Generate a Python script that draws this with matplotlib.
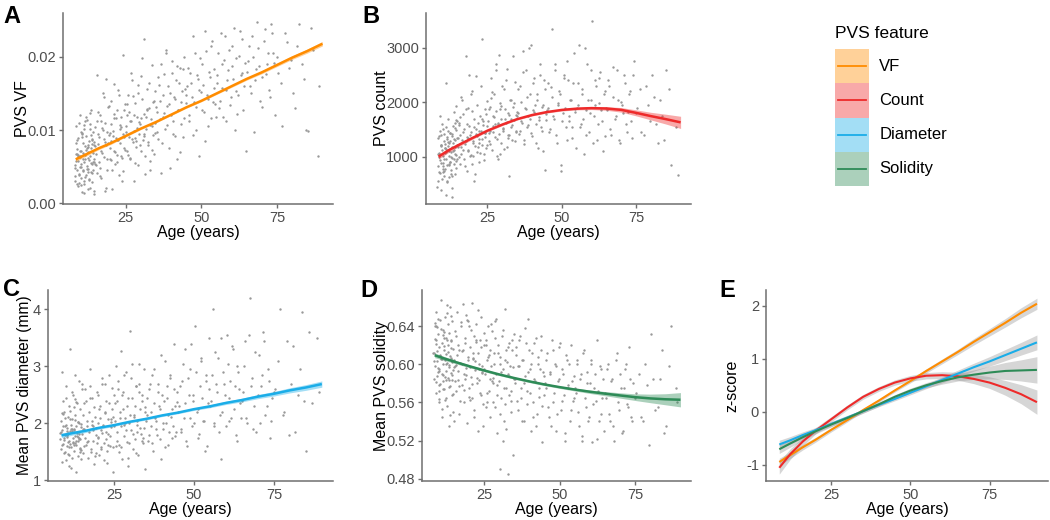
import matplotlib

matplotlib.use("Agg")
import matplotlib.pyplot as plt

plt.rcParams["font.family"] = ["Liberation Sans", "DejaVu Sans"]

# --- participants (age in years), shared by the four scatter panels ---
age = [
    8.2, 8.4, 8.5, 8.7, 8.9, 9.0, 9.1, 9.3, 9.4, 9.6,
    9.8, 10.0, 10.1, 10.2, 10.3, 10.5, 10.6, 10.8, 10.9, 11.0,
    11.1, 11.3, 11.4, 11.5, 11.6, 11.8, 12.0, 12.1, 12.2, 12.3,
    12.4, 12.6, 12.8, 12.9, 13.0, 13.1, 13.2, 13.4, 13.5, 13.6,
    13.7, 13.8, 14.0, 14.1, 14.2, 14.3, 14.4, 14.6, 14.7, 14.9,
    15.1, 15.4, 15.6, 15.9, 16.0, 16.2, 16.4, 16.7, 17.0, 17.2,
    17.5, 17.8, 18.0, 18.1, 18.3, 18.6, 18.9, 19.2, 19.5, 19.7,
    20.0, 20.3, 20.6, 20.9, 21.0, 21.2, 21.4, 21.7, 22.0, 22.3,
    22.6, 22.9, 23.0, 23.2, 23.4, 23.7, 24.0, 24.3, 24.6, 24.9,
    25.2, 25.5, 25.8, 26.0, 26.1, 26.4, 26.7, 27.0, 27.3, 27.6,
    27.9, 28.2, 28.5, 28.8, 29.0, 29.1, 29.4, 29.7, 30.0, 30.3,
    30.6, 30.9, 31.2, 31.5, 31.8, 32.1, 32.4, 32.7, 33.0, 33.3,
    33.6, 33.9, 34.2, 34.5, 34.8,
    35.2, 35.6, 36.0, 36.4, 36.8, 37.2, 37.6, 38.0, 38.4, 38.8,
    39.2, 39.6, 40.0, 40.4, 40.8, 41.2, 41.6, 42.0, 42.4, 42.8,
    43.2, 43.6, 44.0, 44.4, 44.8,
    45.3, 45.8, 46.3, 46.8, 47.3, 47.8, 48.3, 48.8, 49.3, 49.8,
    50.3, 50.8, 51.3, 51.8, 52.3, 52.8, 53.3, 53.8, 54.3, 54.8,
    55.3, 55.8, 56.4, 56.9, 57.5, 58.0, 58.6, 59.1, 59.7,
    60.2, 60.8, 61.3, 61.9, 62.4, 63.0, 63.5, 64.1, 64.6,
    65.3, 66.0, 66.7, 67.4, 68.1, 68.8, 69.5,
    70.2, 70.9, 71.6, 72.3, 73.0, 73.7, 74.4,
    75.4, 76.8, 78.2, 79.6, 81.0, 82.4, 83.8, 85.2, 86.8, 88.4,
    # second batch
    8.3, 8.6, 8.8, 9.2, 9.5, 9.7, 9.9, 10.4, 10.7, 11.2,
    11.7, 11.9, 12.5, 12.7, 13.3, 13.9, 14.5, 14.8, 8.1, 9.2,
    10.0, 10.6, 11.2, 11.9, 12.5, 13.2, 13.9, 14.5, 8.6, 9.5,
    10.3, 11.0, 11.7, 12.4, 13.1, 13.8, 14.4, 9.0, 9.9, 10.8,
    11.5, 12.2, 12.9, 13.6, 14.3, 8.8, 10.1, 11.3, 12.6, 13.9,
    15.0, 15.3, 15.7, 16.1, 16.5, 16.9, 17.3, 17.7, 18.2, 18.5,
    18.8, 19.0, 19.4, 19.8, 20.1, 20.5, 20.8, 21.3, 21.6, 21.9,
    22.2, 22.5, 22.8, 23.3, 23.6, 23.9, 24.2, 24.5, 24.8, 15.5,
    16.6, 17.6, 18.4, 19.3, 20.2, 21.1, 22.1, 23.1, 24.1, 19.9,
    25.0, 25.4, 25.9, 26.3, 26.8, 27.2, 27.7, 28.1, 28.6, 29.2,
    29.6, 30.1, 30.5, 31.0, 31.4, 31.9, 32.3, 32.8, 33.2, 33.7,
    34.1, 34.6, 25.6, 26.5, 27.5, 28.4, 29.3, 30.2, 31.1, 32.0,
    32.9, 33.8, 34.7, 28.0, 31.7,
    35.0, 35.4, 35.8, 36.2, 36.6, 37.0, 37.4, 37.8, 38.2, 38.6,
    39.0, 39.4, 39.8, 40.2, 40.6, 41.0, 41.4, 41.8, 42.2, 42.6,
    43.0, 43.4, 43.8, 44.2, 44.6,
    45.0, 45.5, 46.0, 46.6, 47.1, 47.6, 48.1, 48.6, 49.1, 49.6,
    50.1, 50.6, 51.1, 51.6, 52.1, 52.6, 53.1, 53.6, 54.1, 54.6,
    55.1, 55.6, 56.1, 56.7, 57.2, 57.8, 58.3, 58.9, 59.4,
    60.0, 60.5, 61.1, 61.6, 62.2, 62.7, 63.3, 63.8, 64.4,
    65.0, 65.7, 66.4, 67.1, 67.8, 68.5, 69.2,
    69.9, 70.6, 71.3, 72.0, 72.7, 73.4, 74.1,
    75.0, 76.3, 77.7, 79.0, 80.3, 81.7, 83.1, 84.5, 86.1, 89.0,
]

vf = [
    0.0052, 0.0031, 0.0068, 0.0105, 0.0045, 0.0074, 0.0023, 0.0058, 0.0089, 0.0040,
    0.0063, 0.0121, 0.0035, 0.0071, 0.0049, 0.0095, 0.0015, 0.0061, 0.0082, 0.0044,
    0.0107, 0.0056, 0.0027, 0.0078, 0.0066, 0.0038, 0.0092, 0.0051, 0.0114, 0.0047,
    0.0070, 0.0019, 0.0085, 0.0059, 0.0033, 0.0101, 0.0064, 0.0043, 0.0076, 0.0127,
    0.0055, 0.0088, 0.0029, 0.0069, 0.0097, 0.0046, 0.0061, 0.0012, 0.0080, 0.0053,
    0.0068, 0.0175, 0.0042, 0.0095, 0.0081, 0.0057, 0.0120, 0.0034, 0.0072, 0.0103,
    0.0150, 0.0063, 0.0088, 0.0017, 0.0110, 0.0079, 0.0046, 0.0131, 0.0093, 0.0060,
    0.0085, 0.0140, 0.0020, 0.0099, 0.0071, 0.0116, 0.0053, 0.0089, 0.0128, 0.0066,
    0.0155, 0.0039, 0.0101, 0.0083, 0.0118, 0.0062, 0.0202, 0.0091, 0.0075, 0.0136,
    0.0105, 0.0072, 0.0148, 0.0091, 0.0125, 0.0060, 0.0113, 0.0169, 0.0084, 0.0030,
    0.0099, 0.0137, 0.0077, 0.0118, 0.0052, 0.0161, 0.0095, 0.0108, 0.0071, 0.0143,
    0.0087, 0.0224, 0.0122, 0.0064, 0.0101, 0.0156, 0.0080, 0.0130, 0.0045, 0.0115,
    0.0189, 0.0093, 0.0140, 0.0068, 0.0110,
    0.0125, 0.0088, 0.0162, 0.0140, 0.0042, 0.0118, 0.0177, 0.0101, 0.0209, 0.0133,
    0.0075, 0.0150, 0.0120, 0.0195, 0.0095, 0.0142, 0.0168, 0.0060, 0.0127, 0.0185,
    0.0108, 0.0154, 0.0090, 0.0200, 0.0137,
    0.0160, 0.0112, 0.0178, 0.0145, 0.0093, 0.0205, 0.0132, 0.0170, 0.0064, 0.0152,
    0.0190, 0.0125, 0.0236, 0.0148, 0.0105, 0.0172, 0.0215, 0.0138, 0.0183, 0.0118,
    0.0175, 0.0130, 0.0232, 0.0158, 0.0196, 0.0112, 0.0168, 0.0210, 0.0145,
    0.0187, 0.0240, 0.0153, 0.0122, 0.0201, 0.0175, 0.0225, 0.0160, 0.0072,
    0.0195, 0.0160, 0.0228, 0.0098, 0.0183, 0.0212, 0.0140,
    0.0172, 0.0238, 0.0190, 0.0155, 0.0245, 0.0205, 0.0120,
    0.0178, 0.0106, 0.0220, 0.0196, 0.0130, 0.0245, 0.0170, 0.0099, 0.0210, 0.0065,
    # second batch
    0.0048, 0.0083, 0.0026, 0.0065, 0.0110, 0.0039, 0.0072, 0.0054, 0.0096, 0.0031,
    0.0060, 0.0118, 0.0043, 0.0077, 0.0021, 0.0087, 0.0057, 0.0104, 0.0037, 0.0066,
    0.0050, 0.0091, 0.0014, 0.0073, 0.0062, 0.0123, 0.0041, 0.0084, 0.0058, 0.0028,
    0.0098, 0.0069, 0.0036, 0.0079, 0.0108, 0.0053, 0.0017, 0.0086, 0.0064, 0.0045,
    0.0112, 0.0075, 0.0032, 0.0093, 0.0056, 0.0067, 0.0025, 0.0101, 0.0047, 0.0081,
    0.0078, 0.0052, 0.0125, 0.0090, 0.0037, 0.0112, 0.0069, 0.0145, 0.0084, 0.0021,
    0.0098, 0.0061, 0.0133, 0.0076, 0.0108, 0.0045, 0.0092, 0.0163, 0.0070, 0.0117,
    0.0056, 0.0087, 0.0148, 0.0065, 0.0104, 0.0030, 0.0095, 0.0128, 0.0073, 0.0113,
    0.0048, 0.0100, 0.0170, 0.0082, 0.0059, 0.0122, 0.0086, 0.0107, 0.0044, 0.0096,
    0.0098, 0.0135, 0.0066, 0.0112, 0.0178, 0.0088, 0.0121, 0.0055, 0.0103, 0.0150,
    0.0079, 0.0116, 0.0198, 0.0092, 0.0040, 0.0129, 0.0084, 0.0165, 0.0107, 0.0073,
    0.0138, 0.0096, 0.0120, 0.0062, 0.0146, 0.0085, 0.0111, 0.0174, 0.0094, 0.0128,
    0.0058, 0.0106, 0.0153, 0.0089, 0.0118,
    0.0131, 0.0098, 0.0172, 0.0115, 0.0190, 0.0083, 0.0148, 0.0124, 0.0205, 0.0107,
    0.0160, 0.0136, 0.0048, 0.0178, 0.0112, 0.0145, 0.0092, 0.0188, 0.0128, 0.0165,
    0.0070, 0.0139, 0.0183, 0.0117, 0.0156,
    0.0148, 0.0185, 0.0120, 0.0165, 0.0228, 0.0138, 0.0100, 0.0175, 0.0155, 0.0198,
    0.0128, 0.0162, 0.0085, 0.0208, 0.0142, 0.0180, 0.0116, 0.0222, 0.0158, 0.0135,
    0.0165, 0.0205, 0.0140, 0.0190, 0.0118, 0.0228, 0.0155, 0.0182, 0.0134,
    0.0215, 0.0170, 0.0100, 0.0198, 0.0148, 0.0236, 0.0178, 0.0128, 0.0192,
    0.0180, 0.0215, 0.0150, 0.0200, 0.0168, 0.0248, 0.0188,
    0.0132, 0.0222, 0.0176, 0.0205, 0.0145, 0.0232, 0.0192,
    0.0200, 0.0165, 0.0232, 0.0185, 0.0150, 0.0215, 0.0190, 0.0100, 0.0240, 0.0160,
]

count = [
    820, 1350, 560, 1050, 1480, 700, 930, 1210, 380, 1120,
    1600, 890, 1020, 650, 1290, 1410, 770, 1150, 2350, 960,
    1080, 530, 1330, 850, 1190, 1700, 1010, 620, 1250, 910,
    1440, 1090, 760, 1380, 1170, 420, 980, 1560, 1260, 870,
    1130, 1820, 690, 1300, 1040, 1490, 800, 1220, 1650, 950,
    1180, 1620, 860, 1400, 2100, 1050, 1310, 1780, 960, 1500,
    1240, 2850, 730, 1370, 1900, 1120, 1560, 1010, 1450, 2200,
    1280, 550, 1690, 1190, 1420, 2480, 1080, 1610, 1330, 900,
    1750, 1470, 3170, 1220, 1580, 1040, 1880, 1360, 1150, 2020,
    1650, 1280, 1920, 1470, 2450, 1130, 1740, 1560, 2150, 1360,
    1830, 1010, 1600, 2860, 1420, 1980, 1250, 1700, 2300, 1510,
    1140, 1880, 1620, 2620, 1390, 1760, 650, 2050, 1540, 1300,
    1910, 1680, 2380, 1450, 1820,
    1800, 1420, 2300, 1650, 2950, 1230, 1900, 2600, 1540, 1750,
    2150, 3050, 1380, 1850, 2450, 1600, 2050, 1150, 1720, 2700,
    1480, 1950, 2400, 760, 1680,
    1900, 1450, 2280, 3350, 1700, 2600, 1250, 1980, 2150, 850,
    1800, 2450, 1550, 2750, 1650, 2050, 1350, 2350, 1880, 1150,
    1950, 3050, 1600, 2250, 1050, 1850, 2700, 1450, 2050,
    3500, 1750, 2400, 1300, 1980, 2550, 1650, 2150, 1380,
    1850, 2300, 1400, 2650, 1750, 2050, 1250,
    1950, 2500, 1600, 1820, 2200, 1350, 2750,
    1900, 1450, 2300, 1650, 2100, 1250, 1750, 2600, 850, 1550,
    # second batch
    1050, 720, 1380, 880, 1220, 590, 1510, 960, 1160, 300,
    1270, 840, 1430, 680, 1100, 1620, 920, 1340, 450, 1200,
    780, 1060, 1550, 870, 1280, 640, 1180, 1930, 990, 1390,
    740, 1140, 1480, 910, 250, 1320, 1030, 1750, 830, 1240,
    560, 1110, 1420, 950, 1670, 1070, 710, 1360, 1000, 1520,
    1350, 990, 1720, 1180, 2050, 1460, 820, 1290, 1600, 1110,
    2500, 1400, 1030, 1830, 1250, 1540, 680, 1380, 1950, 1170,
    1480, 1070, 2300, 1320, 1660, 940, 1430, 1790, 1210, 1590,
    1120, 1870, 1340, 2150, 1010, 1500, 1260, 1700, 1440, 860,
    1560, 1880, 1230, 2080, 1450, 1720, 2600, 1330, 1610, 1050,
    1940, 1480, 2250, 1690, 1180, 1810, 1390, 2050, 1580, 2850,
    1280, 1760, 1430, 2180, 1600, 960, 1870, 1520, 2400, 1350,
    1700, 1990, 1470, 2700, 1640,
    1750, 2250, 1480, 2000, 1620, 2550, 1300, 1880, 2100, 1580,
    3000, 1700, 1430, 2350, 1820, 1950, 1250, 2150, 1680, 2500,
    1550, 1920, 1100, 2250, 1780,
    1850, 2350, 1500, 2100, 1750, 2700, 1400, 1950, 2200, 730,
    1650, 2500, 1900, 1300, 2400, 1750, 2050, 1550, 2900, 1820,
    1900, 2350, 1550, 2150, 1700, 3000, 1400, 2050, 1800,
    2600, 1250, 1950, 2300, 1600, 2450, 1850, 1100, 2200,
    1900, 2400, 1500, 2100, 1700, 2600, 1300,
    2000, 1800, 2350, 1450, 2150, 1650, 2500,
    1800, 2250, 1400, 1950, 2500, 1600, 2050, 1300, 2250, 660,
]

diameter = [
    1.72, 2.05, 1.55, 1.88, 2.40, 1.64, 1.95, 1.48, 2.20, 1.80,
    1.35, 2.65, 1.76, 1.92, 1.60, 2.12, 1.83, 1.45, 2.30, 1.70,
    3.30, 1.86, 1.58, 1.98, 1.22, 2.08, 1.74, 2.50, 1.66, 1.90,
    1.52, 2.85, 1.78, 2.15, 1.62, 1.15, 1.96, 1.84, 2.35, 1.69,
    2.02, 1.42, 2.75, 1.81, 1.57, 2.25, 1.73, 1.99, 1.38, 2.60,
    1.90, 1.48, 2.35, 1.75, 2.60, 1.62, 2.05, 1.40, 2.20, 1.85,
    2.95, 1.55, 1.98, 2.45, 1.70, 1.28, 2.12, 1.80, 2.55, 1.65,
    2.00, 1.45, 2.30, 1.88, 1.58, 2.70, 1.95, 1.35, 2.18, 1.72,
    2.40, 1.52, 2.08, 1.82, 2.85, 1.60, 1.93, 2.25, 1.15, 2.50,
    2.05, 1.60, 2.40, 1.85, 2.75, 1.50, 2.20, 3.27, 1.95, 1.38,
    2.55, 1.78, 2.10, 2.90, 1.68, 2.30, 1.25, 2.00, 3.62, 1.88,
    2.45, 1.55, 2.15, 1.72, 2.65, 1.98, 1.45, 3.05, 2.25, 1.82,
    2.50, 1.65, 2.95, 1.92, 1.20,
    2.15, 1.70, 2.60, 1.95, 2.85, 1.52, 2.35, 2.05, 1.80, 2.70,
    2.25, 1.38, 2.50, 1.90, 3.10, 2.00, 2.45, 1.62, 2.80, 2.12,
    1.75, 3.40, 2.30, 1.85, 2.55,
    2.30, 1.85, 2.75, 2.10, 3.30, 1.60, 2.50, 2.95, 1.95, 2.40,
    3.70, 2.20, 1.75, 2.65, 3.10, 2.05, 1.52, 2.85, 2.35, 3.50,
    2.40, 4.00, 1.95, 2.70, 3.15, 2.15, 1.38, 2.90, 2.50,
    3.55, 2.05, 2.75, 3.35, 2.25, 1.80, 3.00, 2.60, 2.10,
    2.55, 3.45, 2.00, 4.20, 2.80, 2.30, 1.85,
    3.20, 2.65, 3.60, 2.15, 2.95, 1.75, 2.45,
    2.60, 4.00, 2.20, 1.80, 3.35, 2.50, 3.95, 1.52, 2.35, 3.50,
    # second batch
    1.85, 1.62, 2.18, 1.74, 1.95, 1.50, 2.45, 1.80, 1.68, 2.08,
    1.40, 1.90, 2.28, 1.66, 1.78, 2.00, 1.54, 2.70, 1.84, 1.71,
    1.97, 1.46, 2.22, 1.87, 1.63, 2.38, 1.75, 1.93, 1.32, 2.10,
    1.79, 1.59, 2.55, 1.88, 1.70, 2.03, 1.49, 2.16, 1.82, 1.25,
    1.91, 1.67, 2.42, 1.77, 1.56, 2.90, 1.86, 1.64, 2.06, 1.72,
    1.82, 2.15, 1.60, 2.40, 1.95, 1.70, 2.65, 1.50, 2.05, 1.88,
    2.28, 1.42, 1.92, 2.50, 1.76, 2.10, 1.55, 2.80, 1.98, 1.66,
    2.20, 1.85, 1.30, 2.35, 1.78, 2.02, 2.62, 1.58, 2.12, 1.90,
    1.68, 2.45, 1.95, 1.48, 2.25, 1.84, 2.70, 1.62, 2.08, 1.74,
    1.95, 2.35, 1.70, 2.60, 2.10, 1.58, 2.25, 2.85, 1.88, 2.45,
    1.65, 2.15, 3.05, 1.82, 2.30, 1.48, 2.05, 2.70, 1.92, 2.40,
    1.75, 2.20, 3.00, 1.62, 2.50, 2.00, 1.40, 2.80, 2.12, 1.85,
    2.55, 1.70, 2.28, 1.98, 2.65,
    2.05, 2.45, 1.80, 2.70, 2.20, 1.65, 2.95, 2.10, 1.90, 2.55,
    2.30, 1.72, 3.20, 2.00, 2.40, 1.58, 2.65, 2.15, 1.85, 2.85,
    2.25, 1.95, 2.60, 1.78, 2.38,
    2.20, 2.65, 1.90, 3.05, 2.35, 1.70, 2.80, 2.10, 3.40, 2.50,
    2.00, 2.90, 2.25, 1.82, 3.15, 2.45, 2.05, 2.75, 1.60, 2.60,
    2.30, 2.85, 2.00, 3.25, 2.55, 1.85, 3.50, 2.20, 2.70,
    1.95, 3.05, 2.45, 2.10, 3.30, 2.65, 1.70, 2.90, 2.35,
    2.40, 3.00, 2.10, 3.55, 2.65, 1.90, 3.25,
    2.50, 2.00, 2.85, 3.45, 2.30, 2.75, 2.05,
    2.55, 3.10, 2.15, 3.45, 2.70, 1.85, 2.95, 2.40, 3.60, 2.55,
]

solidity = [
    0.612, 0.585, 0.640, 0.598, 0.625, 0.570, 0.655, 0.603, 0.588, 0.632,
    0.560, 0.618, 0.595, 0.647, 0.579, 0.608, 0.668, 0.590, 0.622, 0.545,
    0.600, 0.636, 0.582, 0.615, 0.574, 0.650, 0.605, 0.565, 0.628, 0.593,
    0.611, 0.556, 0.642, 0.586, 0.620, 0.599, 0.535, 0.633, 0.577, 0.609,
    0.660, 0.591, 0.624, 0.568, 0.604, 0.645, 0.583, 0.616, 0.550, 0.597,
    0.598, 0.635, 0.572, 0.610, 0.655, 0.584, 0.620, 0.548, 0.601, 0.640,
    0.578, 0.615, 0.663, 0.590, 0.560, 0.628, 0.596, 0.538, 0.645, 0.605,
    0.575, 0.618, 0.587, 0.664, 0.565, 0.607, 0.630, 0.552, 0.594, 0.642,
    0.580, 0.612, 0.530, 0.600, 0.625, 0.568, 0.650, 0.592, 0.558, 0.620,
    0.590, 0.625, 0.560, 0.605, 0.640, 0.572, 0.615, 0.545, 0.598, 0.635,
    0.580, 0.612, 0.555, 0.648, 0.590, 0.528, 0.620, 0.582, 0.490, 0.608,
    0.565, 0.630, 0.595, 0.540, 0.658, 0.575, 0.602, 0.485, 0.622, 0.568,
    0.598, 0.550, 0.615, 0.505, 0.585,
    0.580, 0.618, 0.552, 0.598, 0.630, 0.565, 0.605, 0.540, 0.588, 0.622,
    0.572, 0.648, 0.595, 0.530, 0.612, 0.560, 0.585, 0.628, 0.548, 0.600,
    0.575, 0.615, 0.518, 0.592, 0.568,
    0.575, 0.612, 0.545, 0.590, 0.625, 0.560, 0.600, 0.530, 0.582, 0.618,
    0.552, 0.595, 0.568, 0.520, 0.605, 0.578, 0.540, 0.620, 0.562, 0.588,
    0.570, 0.605, 0.535, 0.590, 0.520, 0.615, 0.555, 0.580, 0.545,
    0.600, 0.518, 0.575, 0.562, 0.625, 0.540, 0.595, 0.565, 0.530,
    0.565, 0.600, 0.540, 0.585, 0.520, 0.612, 0.552,
    0.575, 0.530, 0.595, 0.558, 0.618, 0.545, 0.580,
    0.570, 0.545, 0.600, 0.515, 0.585, 0.555, 0.615, 0.535, 0.640, 0.575,
    # second batch
    0.603, 0.627, 0.581, 0.614, 0.596, 0.648, 0.572, 0.609, 0.637, 0.589,
    0.619, 0.563, 0.601, 0.654, 0.583, 0.626, 0.594, 0.541, 0.612, 0.639,
    0.578, 0.606, 0.631, 0.587, 0.662, 0.597, 0.617, 0.569, 0.643, 0.592,
    0.610, 0.553, 0.628, 0.600, 0.576, 0.651, 0.589, 0.621, 0.564, 0.606,
    0.634, 0.584, 0.613, 0.547, 0.602, 0.640, 0.593, 0.574, 0.625, 0.607,
    0.605, 0.582, 0.630, 0.593, 0.615, 0.561, 0.644, 0.600, 0.573, 0.622,
    0.589, 0.652, 0.608, 0.566, 0.597, 0.636, 0.579, 0.612, 0.545, 0.603,
    0.626, 0.586, 0.657, 0.595, 0.570, 0.618, 0.591, 0.535, 0.633, 0.599,
    0.577, 0.614, 0.585, 0.647, 0.563, 0.606, 0.623, 0.583, 0.598, 0.640,
    0.595, 0.620, 0.570, 0.608, 0.585, 0.642, 0.560, 0.600, 0.628, 0.578,
    0.612, 0.548, 0.592, 0.636, 0.575, 0.604, 0.532, 0.618, 0.588, 0.562,
    0.625, 0.597, 0.555, 0.610, 0.582, 0.645, 0.568, 0.600, 0.520, 0.615,
    0.590, 0.572, 0.632, 0.586, 0.558,
    0.585, 0.610, 0.562, 0.598, 0.625, 0.575, 0.540, 0.605, 0.580, 0.638,
    0.558, 0.592, 0.615, 0.570, 0.600, 0.545, 0.622, 0.582, 0.535, 0.608,
    0.566, 0.595, 0.630, 0.556, 0.588,
    0.580, 0.605, 0.555, 0.592, 0.535, 0.615, 0.570, 0.598, 0.548, 0.585,
    0.622, 0.562, 0.590, 0.528, 0.610, 0.575, 0.600, 0.552, 0.582, 0.565,
    0.575, 0.600, 0.550, 0.585, 0.525, 0.612, 0.565, 0.592, 0.540,
    0.580, 0.605, 0.558, 0.590, 0.522, 0.572, 0.598, 0.548, 0.585,
    0.570, 0.595, 0.548, 0.582, 0.535, 0.605, 0.560,
    0.590, 0.528, 0.575, 0.600, 0.555, 0.585, 0.540,
    0.565, 0.590, 0.540, 0.578, 0.632, 0.552, 0.585, 0.528, 0.598, 0.560,
]

# --- fitted trends and half-width of the 95% band ---
fit_age = [8.5, 12, 16, 20, 25, 30, 35, 40, 45, 50, 55, 60, 65, 70, 75, 80, 85, 90]

vf_fit = [0.0060, 0.0067, 0.0075, 0.0082, 0.0092, 0.0102, 0.0111, 0.0121, 0.0131,
          0.0140, 0.0150, 0.0160, 0.0170, 0.0179, 0.0189, 0.0199, 0.0208, 0.0218]
vf_ci = [0.0003, 0.00025, 0.0002, 0.00018, 0.00015, 0.00013, 0.00012, 0.00012, 0.00012,
         0.00013, 0.00014, 0.00016, 0.00018, 0.0002, 0.00022, 0.00025, 0.00028, 0.0003]

count_fit = [1000, 1120, 1235, 1345, 1478, 1590, 1690, 1765, 1820,
             1859, 1882, 1892, 1885, 1860, 1805, 1745, 1690, 1630]
count_ci = [45, 38, 30, 25, 20, 18, 17, 17, 18, 20, 23, 27, 33, 42, 55, 70, 90, 112]

diam_fit = [1.79, 1.83, 1.87, 1.92, 1.97, 2.03, 2.08, 2.14, 2.19,
            2.25, 2.30, 2.36, 2.41, 2.47, 2.52, 2.58, 2.63, 2.69]
diam_ci = [0.04, 0.035, 0.03, 0.025, 0.022, 0.02, 0.02, 0.02, 0.02,
           0.022, 0.025, 0.028, 0.032, 0.036, 0.04, 0.045, 0.05, 0.055]

sol_fit = [0.6095, 0.6058, 0.6018, 0.5980, 0.5935, 0.5893, 0.5855, 0.5820, 0.5788,
           0.5760, 0.5735, 0.5712, 0.5692, 0.5673, 0.5655, 0.5642, 0.5633, 0.5628]
sol_ci = [0.0025, 0.002, 0.0017, 0.0015, 0.0013, 0.0012, 0.0012, 0.0012, 0.0012,
          0.0013, 0.0015, 0.0018, 0.0022, 0.0028, 0.0035, 0.0045, 0.0058, 0.0075]

# panel E: z-scored trends
z_vf = [-0.95, -0.82, -0.67, -0.53, -0.34, -0.16, 0.03, 0.21, 0.40,
        0.58, 0.77, 0.95, 1.13, 1.32, 1.50, 1.68, 1.87, 2.04]
z_vf_ci = [0.07, 0.06, 0.05, 0.045, 0.04, 0.035, 0.03, 0.03, 0.03,
           0.035, 0.04, 0.045, 0.05, 0.06, 0.07, 0.08, 0.095, 0.105]
z_count = [-1.06, -0.80, -0.56, -0.36, -0.14, 0.08, 0.28, 0.43, 0.55,
           0.63, 0.68, 0.69, 0.67, 0.62, 0.55, 0.45, 0.33, 0.18]
z_count_ci = [0.12, 0.1, 0.08, 0.06, 0.05, 0.045, 0.045, 0.045, 0.05,
              0.055, 0.06, 0.065, 0.075, 0.09, 0.11, 0.14, 0.18, 0.23]
z_diam = [-0.62, -0.54, -0.44, -0.35, -0.23, -0.11, 0.01, 0.13, 0.24,
          0.36, 0.48, 0.60, 0.72, 0.84, 0.95, 1.07, 1.19, 1.31]
z_diam_ci = [0.08, 0.07, 0.06, 0.05, 0.045, 0.04, 0.035, 0.035, 0.035,
             0.04, 0.045, 0.055, 0.065, 0.075, 0.09, 0.105, 0.12, 0.14]
z_sol = [-0.71, -0.60, -0.48, -0.37, -0.24, -0.12, 0.01, 0.14, 0.28,
         0.40, 0.50, 0.58, 0.65, 0.70, 0.74, 0.77, 0.78, 0.79]
z_sol_ci = [0.08, 0.07, 0.06, 0.05, 0.045, 0.04, 0.04, 0.04, 0.04,
            0.045, 0.05, 0.06, 0.07, 0.09, 0.12, 0.16, 0.2, 0.25]

features = ["VF", "Count", "Diameter", "Solidity"]
colors = ["#FF8C00", "#EE2A2A", "#1AADE8", "#2E8B57"]

AGE_LIM = (4.3, 93.5)
W, H = 1050, 520


def px_axes(fig, left, top, right, bottom):
    return fig.add_axes([left / W, 1 - bottom / H, (right - left) / W, (bottom - top) / H])


def style(ax, ylabel, yticks, yticklabels, ylim, ypad=-2, ysize=11.5):
    for side in ("top", "right"):
        ax.spines[side].set_visible(False)
    for side in ("left", "bottom"):
        ax.spines[side].set_color("#6f6f6f")
        ax.spines[side].set_linewidth(1.1)
    ax.set_xlim(*AGE_LIM)
    ax.set_ylim(*ylim)
    ax.set_xticks([25, 50, 75])
    ax.set_yticks(yticks)
    ax.set_yticklabels(yticklabels)
    ax.tick_params(colors="#6f6f6f", labelcolor="#4d4d4d", labelsize=10.5,
                   length=3, width=1, pad=2)
    ax.set_xlabel("Age (years)", fontsize=11.5, labelpad=0)
    ax.set_ylabel(ylabel, fontsize=ysize, labelpad=ypad)


def trend(ax, fit, ci, color, band_color=None, band_alpha=0.4, lw=1.8):
    lo = [f - c for f, c in zip(fit, ci)]
    hi = [f + c for f, c in zip(fit, ci)]
    ax.fill_between(fit_age, lo, hi, color=band_color or color, alpha=band_alpha,
                    linewidth=0, zorder=2)
    ax.plot(fit_age, fit, color=color, lw=lw, zorder=3, solid_capstyle="butt")


def points(ax, values):
    ax.scatter(age, values, s=3, c="#999999", linewidths=0, zorder=1)


fig = plt.figure(figsize=(10.5, 5.2), dpi=100)

# A
ax = px_axes(fig, 63, 13, 333, 204)
points(ax, vf)
trend(ax, vf_fit, vf_ci, colors[0])
style(ax, "PVS VF", [0, 0.01, 0.02], ["0.00", "0.01", "0.02"], (-0.0001, 0.026))

# B
ax = px_axes(fig, 426, 13, 691, 204)
points(ax, count)
trend(ax, count_fit, count_ci, colors[1])
style(ax, "PVS count", [1000, 2000, 3000], ["1000", "2000", "3000"], (130, 3640))

# C
ax = px_axes(fig, 48, 290, 333, 481)
points(ax, diameter)
trend(ax, diam_fit, diam_ci, colors[2])
style(ax, "Mean PVS diameter (mm)", [1, 2, 3, 4], ["1", "2", "3", "4"], (0.99, 4.34),
      ypad=1, ysize=11.2)

# D
ax = px_axes(fig, 422, 290, 691, 481)
points(ax, solidity)
trend(ax, sol_fit, sol_ci, colors[3])
style(ax, "Mean PVS solidity", [0.48, 0.52, 0.56, 0.60, 0.64],
      ["0.48", "0.52", "0.56", "0.60", "0.64"], (0.4775, 0.678))

# E
ax = px_axes(fig, 766, 290, 1048, 481)
for fit, ci, col in [(z_vf, z_vf_ci, colors[0]), (z_count, z_count_ci, colors[1]),
                     (z_diam, z_diam_ci, colors[2]), (z_sol, z_sol_ci, colors[3])]:
    trend(ax, fit, ci, col, band_color="#999999", band_alpha=0.4, lw=1.5)
style(ax, "z-score", [-1, 0, 1, 2], ["-1", "0", "1", "2"], (-1.31, 2.30), ypad=4.5)

# panel letters
for letter, x, y in [("A", 3, 23), ("B", 362, 23), ("C", 3, 296), ("D", 360, 297), ("E", 719, 297)]:
    fig.text(x / W, 1 - y / H, letter, fontsize=17, fontweight="bold", va="baseline")

# legend: ggplot-style stacked keys (filled band + line) drawn in its own axes
lax = px_axes(fig, 835, 49, 869, 186)
lax.set_xlim(0, 1)
lax.set_ylim(len(features), 0)
lax.axis("off")
for i, (name, col) in enumerate(zip(features, colors)):
    lax.bar(0.5, 1, width=1, bottom=i, color=col, alpha=0.4, linewidth=0)
    lax.plot([0.1, 0.9], [i + 0.5, i + 0.5], color=col, lw=1.3)
    lax.text(1.3, i + 0.5, name, fontsize=12, va="center", ha="left", clip_on=False)
lax.text(0, -0.45, "PVS feature", fontsize=12.5, va="center", ha="left", clip_on=False)

fig.savefig("out.png", dpi=100)
